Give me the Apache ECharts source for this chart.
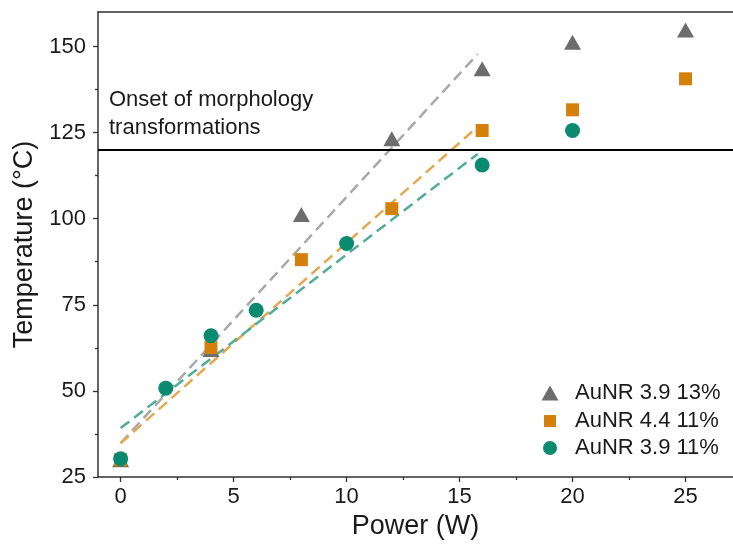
<!DOCTYPE html>
<html>
<head>
<meta charset="utf-8">
<script src="https://cdn.jsdelivr.net/npm/echarts@6/dist/echarts.min.js"></script>
<style>html,body{margin:0;padding:0;background:#fff}#c{width:733px;height:545px}</style>
</head>
<body>
<div id="c"></div>
<script>
// ---- data ----
const powerGray = [0, 4, 8, 12, 16, 20, 25];
const tempGray = [30, 62, 101.2, 123.2, 143.5, 151.2, 154.8];
const powerOrange = [0, 4, 8, 12, 16, 20, 25];
const tempOrange = [30, 62.6, 88.1, 102.9, 125.6, 131.6, 140.6];
const powerGreen = [0, 2, 4, 6, 10, 16, 20];
const tempGreen = [30.3, 50.8, 66, 73.4, 92.8, 115.6, 125.6];
const fitX = [0, 15.8];
const fitGray = [34.8, 147.8];
const fitOrange = [34.8, 126.7];
const fitGreen = [39.2, 118.8];
const xTicks = [0, 5, 10, 15, 20, 25];
const xMinor = [2.5, 7.5, 12.5, 17.5, 22.5];
const yTicks = [25, 50, 75, 100, 125, 150];
const yMinor = [37.5, 62.5, 87.5, 112.5, 137.5];
const onsetTemp = 120;
const names = ['AuNR 3.9 13%', 'AuNR 4.4 11%', 'AuNR 3.9 11%'];

const zip = (a, b) => a.map((v, i) => [v, b[i]]);
const FONT = 'Liberation Sans, Arial, sans-serif';
const AX = '#333';

const chart = echarts.init(document.getElementById('c'), null, {renderer: 'canvas'});
const legendBase = (name, top, iw, ih, pad) => ({
  data: [name], left: 550 - iw / 2, top: top, orient: 'vertical', padding: 0,
  itemWidth: iw, itemHeight: ih, selectedMode: false,
  textStyle: {fontFamily: FONT, fontSize: 22, color: '#1a1a1a', padding: [0, 0, 0, pad], lineHeight: 24}
});
chart.setOption({
  animation: false,
  backgroundColor: '#fff',
  grid: {left: 98, top: 12, right: 0, bottom: 68, containLabel: false},
  legend: [
    legendBase(names[0], 381, 17, 15, 11.5),
    legendBase(names[1], 409, 12, 12, 14),
    legendBase(names[2], 436, 14, 14, 13)
  ],
  graphic: [{
    type: 'text', left: 109, top: 86, z: 10,
    style: {text: 'Onset of morphology\ntransformations', fontFamily: FONT, fontSize: 22, lineHeight: 28, fill: '#1a1a1a'}
  }],
  xAxis: [
    {type: 'value', min: -1, max: 27.1, position: 'bottom',
     name: 'Power (W)', nameLocation: 'middle', nameGap: 34,
     nameTextStyle: {fontFamily: FONT, fontSize: 27, color: '#1a1a1a'},
     axisLine: {show: true, onZero: false, lineStyle: {color: AX, width: 1.5}},
     axisTick: {show: true, customValues: xTicks, length: 5, lineStyle: {color: AX, width: 1.3}},
     axisLabel: {customValues: xTicks, fontFamily: FONT, fontSize: 22, color: '#1a1a1a', margin: 9},
     splitLine: {show: false}},
    {type: 'value', min: -1, max: 27.1, position: 'bottom',
     axisLine: {show: false, onZero: false},
     axisTick: {show: true, customValues: xMinor, length: 3, lineStyle: {color: AX, width: 1.3}},
     axisLabel: {show: false}, splitLine: {show: false}},
    {type: 'value', min: -1, max: 27.1, position: 'top',
     axisLine: {show: true, onZero: false, lineStyle: {color: AX, width: 1.5}},
     axisTick: {show: false}, axisLabel: {show: false}, splitLine: {show: false}}
  ],
  yAxis: [
    {type: 'value', min: 25, max: 160, position: 'left',
     name: 'Temperature (°C)', nameLocation: 'middle', nameGap: 57,
     nameTextStyle: {fontFamily: FONT, fontSize: 27, color: '#1a1a1a'},
     axisLine: {show: true, onZero: false, lineStyle: {color: AX, width: 1.5}},
     axisTick: {show: true, customValues: yTicks, length: 5, lineStyle: {color: AX, width: 1.3}},
     axisLabel: {customValues: yTicks, fontFamily: FONT, fontSize: 22, color: '#1a1a1a', margin: 12},
     splitLine: {show: false}},
    {type: 'value', min: 25, max: 160, position: 'left',
     axisLine: {show: false, onZero: false},
     axisTick: {show: true, customValues: yMinor, length: 3, lineStyle: {color: AX, width: 1.3}},
     axisLabel: {show: false}, splitLine: {show: false}}
  ],
  series: [
    {name: 'fit gray', type: 'line', data: zip(fitX, fitGray), showSymbol: false, z: 2,
     lineStyle: {color: '#a9a9a9', width: 2.5, type: [11, 6]},
     markLine: {silent: true, symbol: 'none', label: {show: false},
       lineStyle: {color: '#000', width: 1.8, type: 'solid'}, data: [{yAxis: onsetTemp}]}},
    {name: 'fit orange', type: 'line', data: zip(fitX, fitOrange), showSymbol: false, z: 2,
     lineStyle: {color: '#e6a84e', width: 2.5, type: [11, 6]}},
    {name: 'fit green', type: 'line', data: zip(fitX, fitGreen), showSymbol: false, z: 2,
     lineStyle: {color: '#4fae96', width: 2.5, type: [11, 6]}},
    {name: names[0], type: 'scatter', data: zip(powerGray, tempGray), symbol: 'triangle', symbolSize: [17, 15], z: 3,
     itemStyle: {color: '#6d6d6d', opacity: 1}},
    {name: names[1], type: 'scatter', data: zip(powerOrange, tempOrange), symbol: 'rect', symbolSize: [13, 13], z: 4,
     itemStyle: {color: '#d4810b', opacity: 1}},
    {name: names[2], type: 'scatter', data: zip(powerGreen, tempGreen), symbol: 'circle', symbolSize: 15, z: 5,
     itemStyle: {color: '#0a8a6f', opacity: 1}}
  ]
});
</script>
</body>
</html>
